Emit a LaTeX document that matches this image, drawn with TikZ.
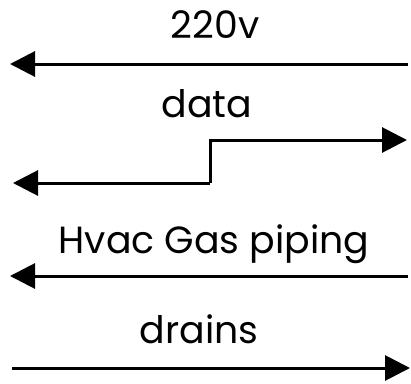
\documentclass[tikz,border=0pt]{standalone}
\usepackage{fontspec}
\setmainfont{Poppins}
\usetikzlibrary{arrows.meta}
\begin{document}
\begin{tikzpicture}[x=1bp,y=-1bp]
\tikzstyle{label}=[font=\fontsize{38}{46}\selectfont,anchor=base,inner sep=0]
\tikzstyle{pipe}=[line width=3bp,-{Triangle[length=25bp,width=25bp]}]
\useasboundingbox (0,0) rectangle (411,384);
\node[label] (power) at (215,38) {220v};
\node[label] (data) at (207,117) {data};
\node[label] (gas) at (214,253) {Hvac Gas piping};
\node[label] (drains) at (199,343) {drains};
\coordinate (p1) at (408,64);
\coordinate (p0) at (10,64);
\coordinate (d1) at (407,140);
\coordinate (dm) at (210,140);
\coordinate (dn) at (210,183);
\coordinate (d0) at (13,183);
\coordinate (g1) at (408,276);
\coordinate (g0) at (10,276);
\coordinate (w0) at (12,368);
\coordinate (w1) at (410,368);
\draw[pipe] (p1) -- (p0);
\draw[pipe] (dn) -- (d0);
\draw[pipe] (dn) -- (dm) -- (d1);
\draw[pipe] (g1) -- (g0);
\draw[pipe] (w0) -- (w1);
\end{tikzpicture}
\end{document}
